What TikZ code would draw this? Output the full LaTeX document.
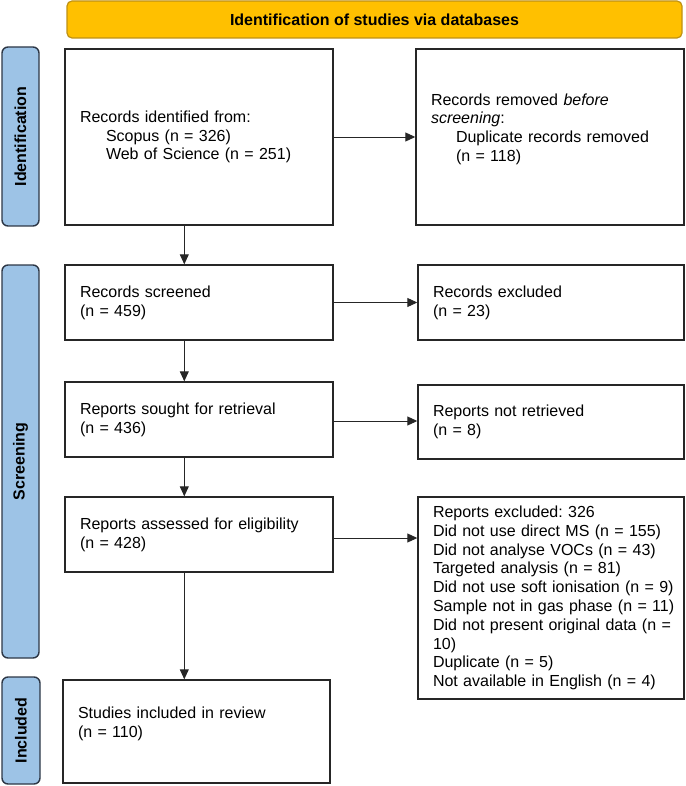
\documentclass[tikz,border=0pt]{standalone}
\usepackage{fontspec}
\setmainfont{Liberation Sans}
\usepackage{tikz}
\usetikzlibrary{arrows.meta, positioning}
\definecolor{bannergold}{RGB}{255,192,0}
\definecolor{bannerline}{RGB}{190,145,20}
\definecolor{sideblue}{RGB}{157,195,230}
\definecolor{sideline}{RGB}{45,55,70}
\frenchspacing

\begin{document}
\begin{tikzpicture}[
    x=1pt, y=-1pt,
    box/.style={rectangle, draw=black!85, line width=1.4pt, inner xsep=15pt, inner ysep=0pt, align=left, font=\fontsize{16}{18.8}\selectfont},
    side/.style={rectangle, rounded corners=6pt, draw=sideline, line width=1.4pt, fill=sideblue, rotate=90, inner sep=0pt, font=\bfseries\fontsize{16}{18}\selectfont},
    banner/.style={rectangle, rounded corners=5pt, draw=bannerline, line width=1.2pt, fill=bannergold, inner sep=0pt, font=\bfseries\fontsize{16}{18}\selectfont},
    arr/.style={-{Triangle[length=10pt,width=9pt]}, line width=0.9pt, black!85}
]
\useasboundingbox (0,0) rectangle (685,786);

% Header and phase bars
\node[banner, minimum width=615pt, minimum height=37pt] (head) at (374.5,19.5) {Identification of studies via databases};
\node[side, minimum width=179pt, minimum height=37pt] (idbar)   at (20.5,136.5) {Identification};
\node[side, minimum width=393pt, minimum height=37pt] (scrbar)  at (20.5,461.5) {Screening};
\node[side, minimum width=107pt, minimum height=38pt] (inclbar) at (21,730.5)   {Included};

% Left column: main flow
\node[box, text width=238pt, minimum height=176pt] (ident)    at (199,137)   {Records identified from:\\\hspace*{26pt}Scopus (n = 326)\\\hspace*{26pt}Web of Science (n = 251)};
\node[box, text width=238pt, minimum height=75pt]  (screened) at (199,302.5) {Records screened\\(n = 459)};
\node[box, text width=238pt, minimum height=75pt]  (sought)   at (199,419.5) {Reports sought for retrieval\\(n = 436)};
\node[box, text width=238pt, minimum height=75pt]  (assessed) at (199,534.5) {Reports assessed for eligibility\\(n = 428)};
\node[box, text width=237pt, minimum height=103pt] (studies)  at (196.5,731.5) {Studies included in review\\(n = 110)\\\mbox{}};

% Right column: removals and exclusions
\node[box, text width=238pt, minimum height=176pt] (removed)  at (550,137)   {Records removed \textit{before}\\\textit{screening}:\\\hspace*{25pt}Duplicate records removed\\\hspace*{25pt}(n = 118)\\\mbox{}};
\node[box, text width=236pt, minimum height=75pt]  (excluded) at (551,302.5) {Records excluded\\(n = 23)};
\node[box, text width=236pt, minimum height=74pt]  (notret)   at (551,422)   {Reports not retrieved\\(n = 8)};
\node[box, text width=236pt, minimum height=202pt] (repexcl)  at (551,598)   {Reports excluded: 326\\\mbox{Did not use direct MS (n = 155)}\\\mbox{Did not analyse VOCs (n = 43)}\\Targeted analysis (n = 81)\\\mbox{Did not use soft ionisation (n = 9)}\\\mbox{Sample not in gas phase (n = 11)}\\\mbox{Did not present original data (n =}\\10)\\Duplicate (n = 5)\\\mbox{Not available in English (n = 4)}};

% Down the main flow
\draw[arr] ([xshift=120pt]ident.south west) -- ([xshift=120pt]ident.south west |- screened.north);
\draw[arr] ([xshift=120pt]screened.south west) -- ([xshift=120pt]screened.south west |- sought.north);
\draw[arr] ([xshift=120pt]sought.south west) -- ([xshift=120pt]sought.south west |- assessed.north);
\draw[arr] ([xshift=120pt]assessed.south west) -- ([xshift=120pt]assessed.south west |- studies.north);

% Out to the right
\draw[arr] (ident) -- (removed);
\draw[arr] (screened) -- (excluded);
\draw[arr] ([yshift=-1.5pt]sought.east) -- ([yshift=-1.5pt]sought.east -| notret.west);
\draw[arr] ([yshift=-3.5pt]assessed.east) -- ([yshift=-3.5pt]assessed.east -| repexcl.west);
\end{tikzpicture}
\end{document}
